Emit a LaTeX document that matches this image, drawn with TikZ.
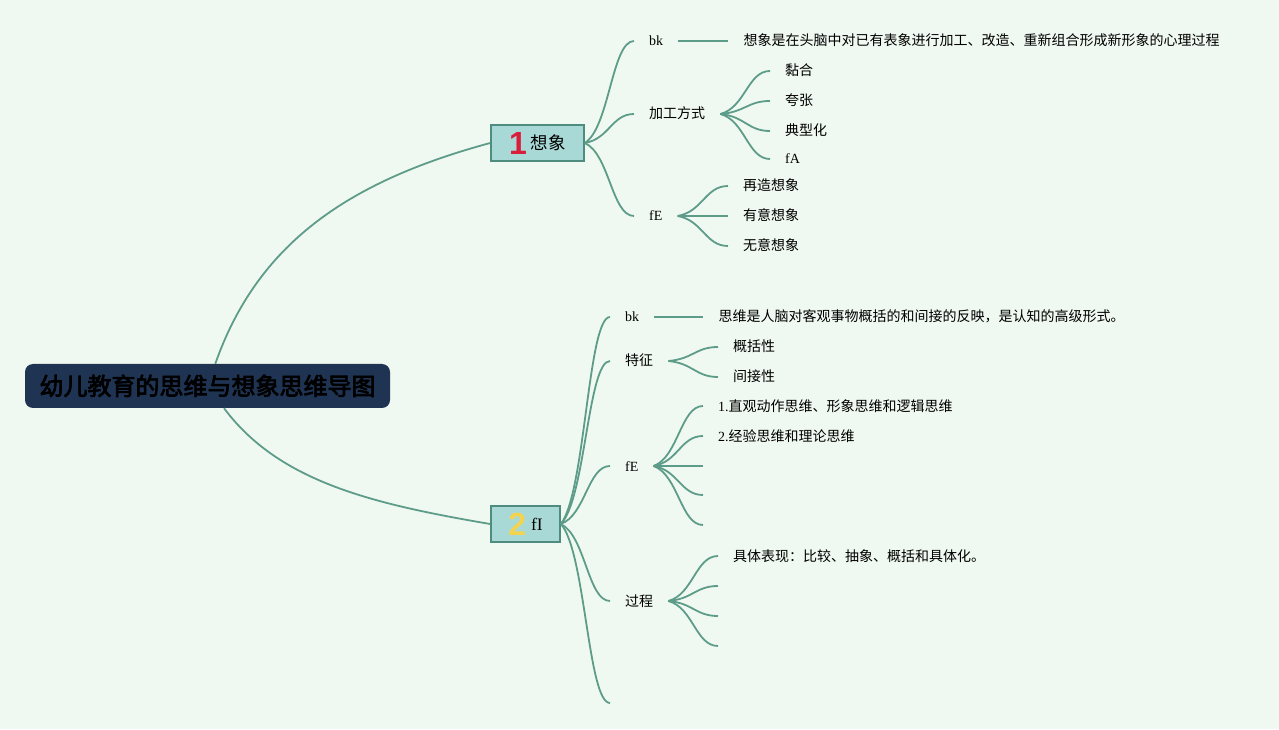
\documentclass[tikz,border=0pt]{standalone}
\usepackage{fontspec}
\setmainfont{Liberation Serif}
\newfontfamily\cjk{Noto Sans CJK SC}
\newfontfamily\cjkbold[FakeBold=3]{Noto Sans CJK SC}
\newfontfamily\numfont{Liberation Sans}
\usetikzlibrary{positioning, calc}

\definecolor{bgmint}{HTML}{F0F9F1}
\definecolor{wirecol}{HTML}{5E9C8A}
\definecolor{topicfill}{HTML}{A9D9D6}
\definecolor{topicedge}{HTML}{4E8C7E}
\definecolor{rootfill}{HTML}{1F3453}
\definecolor{numred}{HTML}{D81E3C}
\definecolor{numyellow}{HTML}{F3D34F}

\begin{document}
\begin{tikzpicture}[
    x=1pt, y=1pt,
    rootbox/.style={rectangle, rounded corners=8pt, fill=rootfill, minimum width=365pt, minimum height=44pt, inner ysep=0pt, text height=21pt, text depth=3pt, font=\cjkbold\fontsize{24}{26}\selectfont},
    topicbox/.style={rectangle, fill=topicfill, draw=topicedge, line width=1.6pt, minimum height=36pt, inner ysep=0pt, text height=18pt, text depth=5pt, font=\fontsize{17.5}{20}\selectfont},
    leaf/.style={anchor=west, inner xsep=15pt, inner ysep=0pt, text height=12.5pt, text depth=2.5pt, font=\fontsize{14}{16}\selectfont},
    wire/.style={draw=wirecol, line width=1.8pt},
    twig/.style={wire, to path={let \p1=(\tikztostart), \p2=(\tikztotarget) in .. controls ({\x1+0.5*(\x2-\x1)},{\y1+0.15*(\y2-\y1)}) and ({\x2-0.45*(\x2-\x1)},\y2) .. (\tikztotarget)}}
]
\useasboundingbox[fill=bgmint] (0,0) rectangle (1279,729);

% central topic and the two main topics
\node[rootbox] (root) at (207.5,343) {幼儿教育的思维与想象思维导图};
\node[topicbox, minimum width=93pt] (imag) at (537.5,586) {\raisebox{-5pt}{\numfont\bfseries\fontsize{32}{32}\selectfont\color{numred}1}\hspace{4pt}{\cjk 想象}};
\node[topicbox, minimum width=69pt] (think) at (525.5,205) {\raisebox{-5pt}{\numfont\bfseries\fontsize{32}{32}\selectfont\color{numyellow}2}\hspace{5pt}fI};

% imagination branch
\node[leaf] (im-bk) at (634,688) {bk};
\node[leaf, right=50pt of im-bk] (im-bk-text) {\cjk 想象是在头脑中对已有表象进行加工、改造、重新组合形成新形象的心理过程};
\node[leaf] (im-way) at (634,615) {\cjk 加工方式};
\node[leaf] (im-fe) at (634,513) {fE};

\node[leaf] (way1) at (770,658) {\cjk 黏合};
\node[leaf] (way2) at (770,628) {\cjk 夸张};
\node[leaf] (way3) at (770,598) {\cjk 典型化};
\node[leaf] (way4) at (770,570) {fA};

\node[leaf] (imfe1) at (728,543) {\cjk 再造想象};
\node[leaf] (imfe2) at (728,513) {\cjk 有意想象};
\node[leaf] (imfe3) at (728,483) {\cjk 无意想象};

% thinking branch
\node[leaf] (th-bk) at (610,412) {bk};
\node[leaf, right=49pt of th-bk] (th-bk-text) {\cjk 思维是人脑对客观事物概括的和间接的反映，是认知的高级形式。};
\node[leaf] (th-trait) at (610,368) {\cjk 特征};
\node[leaf] (th-fe) at (610,263) {fE};
\node[leaf] (th-proc) at (610,128) {\cjk 过程};
\coordinate (th-end) at (610,26);

\node[leaf] (trait1) at (718,382) {\cjk 概括性};
\node[leaf] (trait2) at (718,352) {\cjk 间接性};

\node[leaf] (thfe1) at (703,323) {1.{\cjk 直观动作思维、形象思维和逻辑思维}};
\node[leaf] (thfe2) at (703,293) {2.{\cjk 经验思维和理论思维}};
\coordinate (thfe3) at (703,263);
\coordinate (thfe4) at (703,234);
\coordinate (thfe5) at (703,204);

\node[leaf] (proc1) at (718,173) {\cjk 具体表现：比较、抽象、概括和具体化。};
\coordinate (proc2) at (718,143);
\coordinate (proc3) at (718,113);
\coordinate (proc4) at (718,83);

% connectors
\draw[wire] (root) .. controls (257,484) and (346,547) .. (imag.west);
\draw[wire] (root) .. controls (279,247) and (373,225) .. (think.west);

\draw[twig] (imag.east) to (im-bk.west);
\draw[twig] (imag.east) to (im-way.west);
\draw[twig] (imag.east) to (im-fe.west);
\draw[wire] (im-bk) -- (im-bk-text);

\draw[twig] (im-way.east) to (way1.west);
\draw[twig] (im-way.east) to (way2.west);
\draw[twig] (im-way.east) to (way3.west);
\draw[twig] (im-way.east) to (way4.west);

\draw[twig] (im-fe.east) to (imfe1.west);
\draw[twig] (im-fe.east) to (imfe2.west);
\draw[twig] (im-fe.east) to (imfe3.west);

\draw[twig] (think.east) to (th-bk.west);
\draw[twig] (think.east) to (th-trait.west);
\draw[twig] (think.east) to (th-fe.west);
\draw[twig] (think.east) to (th-proc.west);
\draw[twig] (think.east) to (th-end);
\draw[wire] (th-bk) -- (th-bk-text);

\draw[twig] (th-trait.east) to (trait1.west);
\draw[twig] (th-trait.east) to (trait2.west);

\draw[twig] (th-fe.east) to (thfe1.west);
\draw[twig] (th-fe.east) to (thfe2.west);
\draw[twig] (th-fe.east) to (thfe3);
\draw[twig] (th-fe.east) to (thfe4);
\draw[twig] (th-fe.east) to (thfe5);

\draw[twig] (th-proc.east) to (proc1.west);
\draw[twig] (th-proc.east) to (proc2);
\draw[twig] (th-proc.east) to (proc3);
\draw[twig] (th-proc.east) to (proc4);

\end{tikzpicture}
\end{document}
